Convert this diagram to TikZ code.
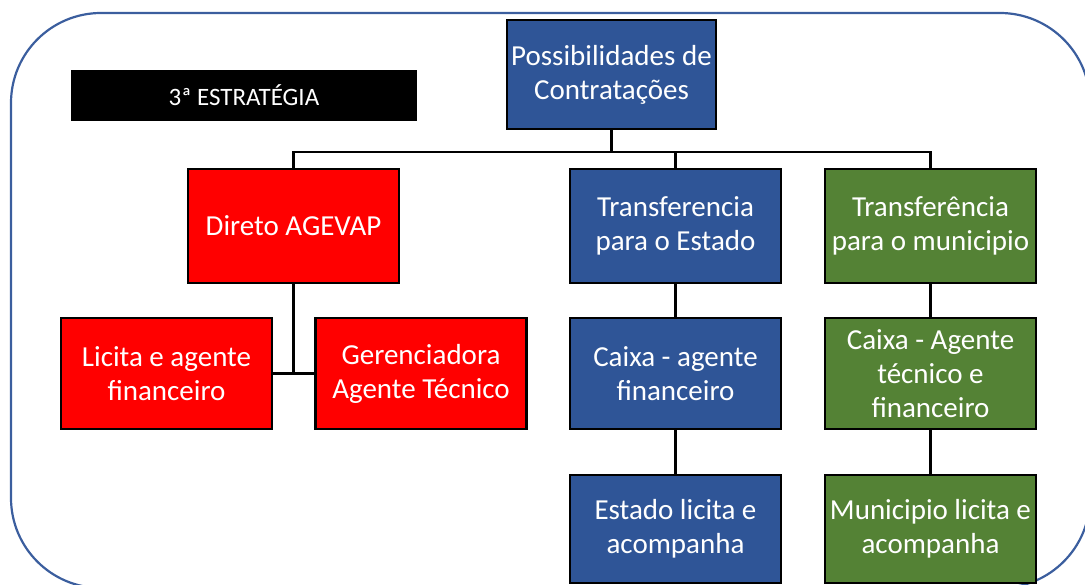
\documentclass[tikz,border=0pt]{standalone}
\usepackage{fontspec}
\setmainfont{Carlito}
\usepackage{xcolor}
\definecolor{ofblue}{HTML}{2F5597}
\definecolor{ofgreen}{HTML}{548235}
\definecolor{ofred}{HTML}{FF0000}
\definecolor{frameblue}{HTML}{3B5E9E}

\begin{document}
\begin{tikzpicture}[x=1pt,y=-1pt]
     \tikzstyle{box}=[draw=black,line width=2.5pt,text=white,align=center,inner sep=0pt,
                      minimum width=211pt,minimum height=112pt,font=\fontsize{29}{34}\selectfont]
     \tikzstyle{bluebox}=[box,fill=ofblue]
     \tikzstyle{redbox}=[box,fill=ofred]
     \tikzstyle{greenbox}=[box,fill=ofgreen]
     \tikzstyle{edge}=[draw,line width=2.5pt,black]

     \clip (0,0) rectangle (1085,585);
     \draw[frameblue,line width=2.2pt,rounded corners=90pt] (11,13) rectangle (1090,588);

     \node[fill=black,text=white,minimum width=346pt,minimum height=51pt,inner sep=0pt,
           font=\fontsize{25}{30}\selectfont] (title) at (244,95.5) {3ª ESTRATÉGIA};

     \node[bluebox,minimum width=209pt,minimum height=109pt] (root) at (611.5,74.5) {Possibilidades de\\Contratações};

     \node[redbox,minimum height=114pt] (dir) at (293.5,226) {Direto AGEVAP};
     \node[bluebox,minimum height=114pt] (est) at (675.5,226) {Transferencia\\para o Estado};
     \node[greenbox,minimum height=114pt] (mun) at (930.5,226) {Transferência\\para o municipio};

     \node[redbox,minimum height=111pt] (lic) at (166.5,373.5) {Licita e agente\\financeiro};
     \node[redbox,minimum height=111pt] (ger) at (421,373.5) {Gerenciadora\\Agente Técnico};
     \node[bluebox,minimum height=111pt] (cxe) at (675.5,373.5) {Caixa - agente\\financeiro};
     \node[greenbox,minimum height=111pt] (cxm) at (930.5,373.5) {Caixa - Agente\\técnico e\\financeiro};

     \node[bluebox,minimum height=108pt] (este) at (675.5,529) {Estado licita e\\acompanha};
     \node[greenbox,minimum height=108pt] (mune) at (930.5,529) {Municipio licita e\\acompanha};

     % top bus
     \coordinate (bus) at (611.5,152);
     \draw[edge] (root) -- (bus);
     \draw[edge] (bus) -| (dir);
     \draw[edge] (bus) -| (est);
     \draw[edge] (bus) -| (mun);

     % red branch
     \coordinate (j) at (293.5,373.5);
     \draw[edge] (dir) -- (j);
     \draw[edge] (lic) -- (ger);

     \draw[edge] (est) -- (cxe);
     \draw[edge] (cxe) -- (este);
     \draw[edge] (mun) -- (cxm);
     \draw[edge] (cxm) -- (mune);
\end{tikzpicture}
\end{document}
